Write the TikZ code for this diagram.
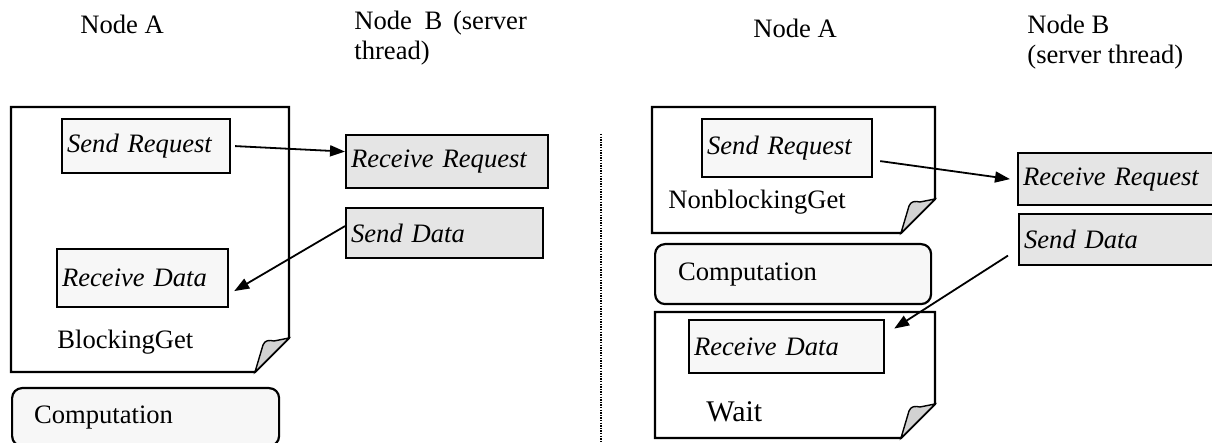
\documentclass[tikz,border=0pt]{standalone}
\usepackage{fontspec}
\setmainfont{Liberation Serif}
\usetikzlibrary{arrows.meta, positioning}

\begin{document}
\begin{tikzpicture}[
    x=0.5pt, y=-0.5pt,
    font=\fontsize{13.3}{15}\selectfont,
    page/.style={draw, line width=1.1pt, fill=white},
    fold/.style={draw, line width=0.7pt, fill=gray!35},
    local/.style={draw, line width=1.1pt, fill=gray!6, anchor=north west, inner xsep=2.5pt, inner ysep=1pt, align=left, font=\fontsize{13.3}{15}\selectfont\itshape},
    remote/.style={local, fill=gray!20},
    comp/.style={draw, line width=1.1pt, fill=gray!6, rounded corners=5pt, anchor=north west, inner ysep=1pt, align=left},
    caption/.style={anchor=west, inner sep=0pt, align=left},
    msg/.style={-{Triangle[length=7.5pt, width=5.5pt]}, line width=0.9pt}
]
    \useasboundingbox (0,0) rectangle (1212,443);
    \clip (0,0) rectangle (1212,443);

    % Pages with a folded corner (left, top, right, bottom)
    \foreach \l/\t/\r/\b in {11/107/289/372, 652/107/935/233, 655/312/935/438} {
        \path[page] (\l,\t) -- (\r,\t) -- (\r,\b-34) -- (\r-34,\b) -- (\l,\b) -- cycle;
        \path[fold] (\r-34,\b) -- (\r-26,\b-27) .. controls (\r-24,\b-32) and (\r-20,\b-32) .. (\r-15,\b-31) -- (\r,\b-34) -- cycle;
    }

    % Separator
    \draw[line width=0.7pt, dash pattern=on 0.7pt off 0.6pt] (601,134) -- (601,450);

    % --- Blocking get ---
    \node[caption] (hdrA1) at (80,24) {Node A};
    \node[caption] (hdrB1) at (354,38) {Node\hspace{3pt} B\hspace{2pt} (server\\thread)};

    \node[local, minimum height=27pt, text width=79pt] (sreqL) at (61,118) {Send Request};
    \node[local, minimum height=29pt, text width=80.5pt] (rdataL) at (56,248) {Receive Data};
    \node[caption] (blkL) at (57,342) {BlockingGet};
    \node[remote, minimum height=26.5pt, text width=96pt] (rreqL) at (345,134) {Receive Request};
    \node[remote, minimum height=25pt, text width=93.5pt] (sdataL) at (345,207) {Send Data};
    \node[comp, minimum height=29pt, inner xsep=11pt, text width=111.5pt] (compL) at (11,387) {Computation};

    \draw[msg] ([xshift=2pt]sreqL.east) -- ([yshift=5pt]rreqL.west);
    \draw[msg] ([yshift=3.5pt]sdataL.west) -- ([xshift=2.5pt, yshift=-6.5pt]rdataL.east);

    % --- Nonblocking get ---
    \node[caption] (hdrA2) at (753,28) {Node A};
    \node[caption] (hdrB2) at (1027,42) {Node B\\(server thread)};

    \node[local, minimum height=29pt, text width=80pt] (sreqR) at (701,118) {Send Request};
    \node[caption] (nbgR) at (668,202) {NonblockingGet};
    \node[comp, minimum height=30pt, inner xsep=11.5pt, text width=115pt] (compR) at (654,243) {Computation};
    \node[local, minimum height=26.5pt, text width=92.5pt] (rdataR) at (688,319) {Receive Data};
    \node[caption, font=\fontsize{15}{17}\selectfont] (waitR) at (706,412) {Wait};
    \node[remote, minimum height=26pt, text width=101.5pt] (rreqR) at (1017,152) {Receive Request};
    \node[remote, minimum height=25.5pt, text width=101pt] (sdataR) at (1018,213) {Send Data};

    \draw[msg] ([xshift=3.5pt, yshift=-6.5pt]sreqR.east) -- ([xshift=-3.5pt]rreqR.west);
    \draw[msg] ([xshift=-5pt, yshift=-8pt]sdataR.west) -- ([xshift=4.5pt, yshift=9pt]rdataR.east);
\end{tikzpicture}
\end{document}
